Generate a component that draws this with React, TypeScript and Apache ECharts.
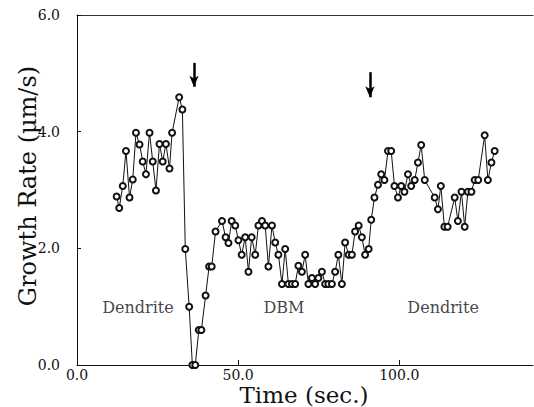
import React, { useEffect, useRef } from "react";
import * as echarts from "echarts";

// Time (s) and growth rate (µm/s)
const times: number[] = [
  12.3, 13.1, 14.2, 15.2, 16.3, 17.3, 18.3, 19.4, 20.4, 21.4, 22.5, 23.5, 24.5, 25.6, 26.6, 27.6, 28.7, 29.5,
  31.7, 32.7, 33.6, 34.8, 35.8, 36.7, 37.8, 38.6, 39.9, 41.0, 41.8, 43.0, 45.0, 46.1, 47.0, 48.0, 49.1, 50.1,
  51.1, 52.2, 53.2, 54.2, 55.3, 56.3, 57.4, 58.4, 59.4, 60.5, 61.5, 62.5, 63.6, 64.6, 65.6, 66.7, 67.7, 68.7,
  69.8, 70.8, 71.8, 72.9, 73.9, 74.9, 76.0, 77.0, 78.0, 79.1, 80.1, 81.1, 82.2, 83.2, 84.3, 85.3, 86.3, 87.4,
  88.4, 89.4, 90.5, 91.3, 92.3, 93.4, 94.4, 95.4, 96.5, 97.5, 98.5, 99.6, 100.6, 101.6, 102.7, 103.7, 104.8,
  105.8, 106.8, 107.9, 111.0, 112.0, 112.9, 114.0, 115.0, 117.2, 118.2, 119.3, 120.3, 121.3, 122.4, 123.4,
  124.5, 126.5, 127.5, 128.6, 129.6,
];
const rates: number[] = [
  2.89, 2.69, 3.07, 3.67, 2.87, 3.18, 3.98, 3.78, 3.49, 3.27, 3.98, 3.49, 2.99, 3.79, 3.49, 3.79, 3.37, 3.98,
  4.59, 4.38, 1.99, 1.0, 0.0, 0.0, 0.6, 0.6, 1.19, 1.69, 1.69, 2.29, 2.47, 2.19, 2.09, 2.47, 2.39, 2.14,
  1.89, 2.19, 1.6, 2.19, 1.89, 2.39, 2.47, 2.39, 1.69, 2.39, 2.1, 1.89, 1.39, 1.99, 1.39, 1.39, 1.39, 1.7,
  1.6, 1.89, 1.39, 1.49, 1.39, 1.49, 1.6, 1.39, 1.39, 1.39, 1.6, 1.89, 1.39, 2.1, 1.89, 1.89, 2.29, 2.39,
  2.19, 1.89, 1.99, 2.49, 2.87, 3.09, 3.27, 3.17, 3.67, 3.67, 3.07, 2.87, 3.07, 2.97, 3.27, 3.07, 3.17,
  3.47, 3.77, 3.17, 2.87, 2.67, 3.07, 2.37, 2.37, 2.87, 2.47, 2.97, 2.37, 2.97, 2.97, 3.17,
  3.17, 3.94, 3.17, 3.47, 3.67,
];

// Region annotations (data coordinates)
const regionNames: string[] = ["Dendrite", "DBM", "Dendrite"];
const regionTimes: number[] = [18.9, 64.2, 113.6];
const regionRates: number[] = [0.98, 0.98, 0.98];

// Arrow markers (time, start rate, end rate)
const arrowTimes: number[] = [36.3, 90.9];
const arrowTops: number[] = [5.18, 5.02];
const arrowTips: number[] = [4.77, 4.59];

const xTicks = { min: 0, max: 141.5, interval: 50 };
const yTicks = { min: 0, max: 6, interval: 2 };

const FAMILY = "DejaVu Serif";

export default function App() {
  const ref = useRef<HTMLDivElement>(null);
  useEffect(() => {
    if (!ref.current) return;
    const chart = echarts.init(ref.current, undefined, { renderer: "svg" });
    const points = times.map((t, i) => [t, rates[i]]);
    const labels = regionNames.map((n, i) => [regionTimes[i], regionRates[i], n]);
    const arrows = arrowTimes.map((t, i) => [
      { coord: [t, arrowTops[i]], symbol: "none" },
      { coord: [t, arrowTips[i]], symbol: "arrow" },
    ]);
    chart.setOption({
      animation: false,
      backgroundColor: "#ffffff",
      textStyle: { fontFamily: FAMILY },
      grid: { left: 77, right: 1, top: 15, bottom: 42, containLabel: false },
      xAxis: [
        {
          type: "value",
          min: xTicks.min,
          max: xTicks.max,
          interval: xTicks.interval,
          axisLine: { show: true, lineStyle: { color: "#111", width: 1 } },
          axisTick: { show: true, inside: true, length: 5, lineStyle: { color: "#111" } },
          axisLabel: {
            show: true,
            margin: 3,
            showMaxLabel: false,
            color: "#111",
            fontFamily: FAMILY,
            fontSize: 14,
            formatter: (v: number) => (v % 50 === 0 ? v.toFixed(1) : ""),
          },
          splitLine: { show: false },
        },
        {
          type: "value",
          position: "top",
          min: xTicks.min,
          max: xTicks.max,
          axisLine: { show: true, lineStyle: { color: "#333", width: 1 } },
          axisTick: { show: false },
          axisLabel: { show: false },
          splitLine: { show: false },
        },
      ],
      yAxis: {
        type: "value",
        min: yTicks.min,
        max: yTicks.max,
        interval: yTicks.interval,
        axisLine: { show: true, lineStyle: { color: "#111", width: 1 } },
        axisTick: { show: true, inside: true, length: 4, lineStyle: { color: "#111" } },
        axisLabel: {
          margin: 17,
          color: "#111",
          fontFamily: FAMILY,
          fontSize: 14,
          formatter: (v: number) => v.toFixed(1),
        },
        splitLine: { show: false },
      },
      series: [
        {
          type: "line",
          data: points,
          symbol: "emptyCircle",
          symbolSize: 6,
          showAllSymbol: true,
          lineStyle: { color: "#111", width: 1 },
          itemStyle: { color: "#111", borderWidth: 0.9 },
          markLine: {
            silent: true,
            symbol: ["none", "arrow"],
            symbolSize: [7, 11],
            label: { show: false },
            lineStyle: { color: "#000", width: 2.5, type: "solid" },
            data: arrows,
          },
        },
        {
          type: "scatter",
          data: labels,
          symbolSize: 0,
          silent: true,
          label: {
            show: true,
            position: "inside",
            formatter: (p: any) => p.data[2],
            color: "#111",
            fontFamily: FAMILY,
            fontSize: 16,
          },
        },
      ],
      graphic: [
        {
          type: "text",
          x: 28,
          y: 186,
          rotation: Math.PI / 2,
          style: {
            text: "Growth Rate (μm/s)",
            fill: "#111",
            fontFamily: FAMILY,
            fontSize: 24,
            textAlign: "center",
            textVerticalAlign: "middle",
          },
        },
        {
          type: "text",
          x: 304,
          y: 395,
          style: {
            text: "Time (sec.)",
            fill: "#111",
            fontFamily: FAMILY,
            fontSize: 23,
            textAlign: "center",
            textVerticalAlign: "middle",
          },
        },
      ],
    });
    return () => chart.dispose();
  }, []);
  return (
    <div
      ref={ref}
      style={{ position: "fixed", left: 0, top: 0, width: 534, height: 407, background: "#fff" }}
    />
  );
}
